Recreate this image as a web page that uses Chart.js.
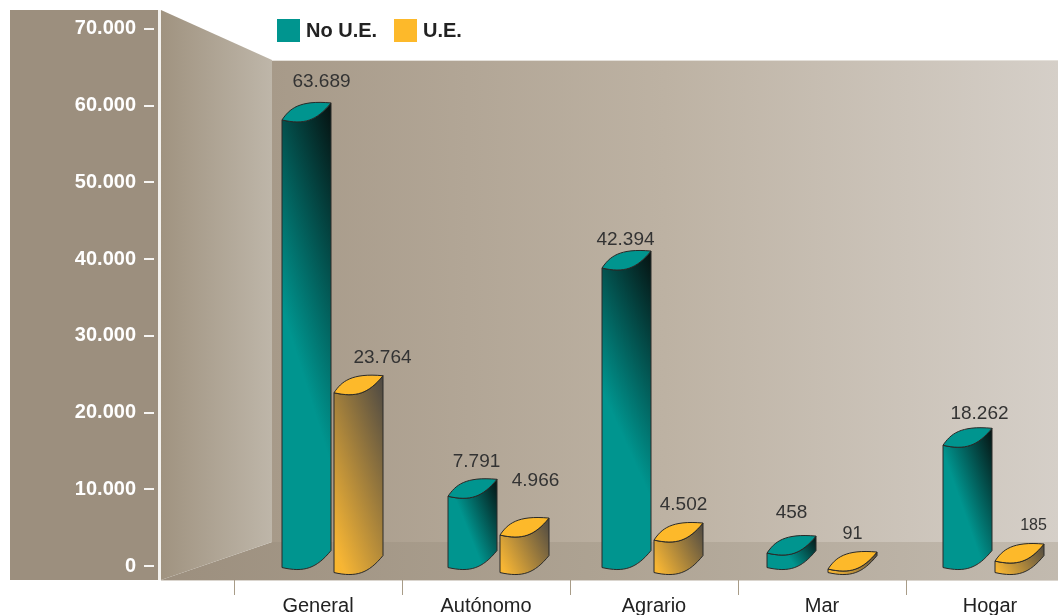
<!DOCTYPE html>
<html lang="es">
<head>
<meta charset="utf-8">
<title>No U.E. / U.E.</title>
<style>
html,body{margin:0;padding:0;background:#fff;overflow:hidden;width:1058px;height:615px}
canvas{display:block}
</style>
<script src="https://cdn.jsdelivr.net/npm/chart.js@4/dist/chart.umd.js"></script>
</head>
<body>
<canvas id="c" width="1074" height="615"></canvas>
<script>
// Categories and tick labels
const categories = ['General', 'Autónomo', 'Agrario', 'Mar', 'Hogar'];
const tickValues = [0, 10000, 20000, 30000, 40000, 50000, 60000, 70000];
const tickLabels = ['0', '10.000', '20.000', '30.000', '40.000', '50.000', '60.000', '70.000'];
const seriesNames = ['No U.E.', 'U.E.'];
// Bar heights as drawn in the picture, read against the axis
const noUEDrawn = [58400, 9350, 39100, 1950, 16000];
const uEDrawn = [23500, 4950, 4300, 520, 1560];
// Values as printed above the bars
const noUELabels = ['63.689', '7.791', '42.394', '458', '18.262'];
const uELabels = ['23.764', '4.966', '4.502', '91', '185'];

const FONT = '"Liberation Sans", Arial, sans-serif';
const looks = [
  { top:'#00958F', stops:[[0,'#00958F'],[0.42,'#00958F'],[1,'#06100F']], drop:2,
    nudge:[15,13,-1,-4,4], labelAt:[[15,-21],[4,-18],[-1,-11],[0,-23],[12,-15]], sizes:[19,19,19,19,19] },
  { top:'#FDB92A', stops:[[0,'#FDB92A'],[0.1,'#F6B534'],[1,'#4A4744']], drop:7,
    nudge:[14,12,-2,4,3], labelAt:[[24,-18],[11,-37],[5,-18],[0,-18],[14,-18]], sizes:[19,19,19,18,16] }
];
const DEPTH = 17;

const scenery = {
  id:'scenery',
  beforeDraw(chart){
    const c = chart.ctx, W = 1058;
    c.save();
    // left panel
    c.fillStyle = '#9C8F7E'; c.fillRect(10,10,148,570);
    // white axis strip
    c.fillStyle = '#F4F2EE'; c.fillRect(158,10,3,570);
    // back wall
    let g = c.createLinearGradient(272,0,W,0);
    g.addColorStop(0,'#A79A89'); g.addColorStop(0.5,'#BDB2A3'); g.addColorStop(1,'#D5CFC8');
    c.fillStyle = g; c.fillRect(272,61,W-272,481);
    c.fillStyle = '#E4E0DA'; c.fillRect(272,60,W-272,1);
    // floor
    g = c.createLinearGradient(161,0,W,0);
    g.addColorStop(0,'#9C8F7E'); g.addColorStop(0.5,'#AEA393'); g.addColorStop(1,'#C2BAAF');
    c.fillStyle = g; c.beginPath(); c.moveTo(161,580); c.lineTo(272,542); c.lineTo(W,542); c.lineTo(W,580); c.closePath(); c.fill();
    c.fillStyle = '#DAD5CE'; c.fillRect(161,580,W-161,1);
    // left wall
    g = c.createLinearGradient(161,0,272,0);
    g.addColorStop(0,'#A09380'); g.addColorStop(1,'#BEB6A9');
    c.fillStyle = g; c.beginPath(); c.moveTo(161,10); c.lineTo(272,60); c.lineTo(272,542); c.lineTo(161,580); c.closePath(); c.fill();
    // axis tick dashes
    const y = chart.scales.y;
    c.fillStyle = '#F7F5F2';
    y.ticks.forEach(t => c.fillRect(144,Math.round(y.getPixelForValue(t.value))-1,10,2));
    // legend
    c.textBaseline = 'middle'; c.textAlign = 'left'; c.font = 'bold 20px ' + FONT;
    c.fillStyle = looks[0].top; c.fillRect(277,19,23,23);
    c.fillStyle = '#222'; c.fillText(seriesNames[0],306,31);
    c.fillStyle = looks[1].top; c.fillRect(394,19,23,23);
    c.fillStyle = '#222'; c.fillText(seriesNames[1],423,31);
    c.restore();
  },
  afterDatasetsDraw(chart){
    const c = chart.ctx;
    const curve = (x0,y,w) => c.bezierCurveTo(x0+.45*w,y+5,x0+.7*w,y+1,x0+w,y-DEPTH);
    const curveBack = (x0,y,w) => c.bezierCurveTo(x0+.7*w,y+1,x0+.45*w,y+5,x0,y);
    chart.data.datasets.forEach((ds,di) => {
      const look = looks[di], labels = di ? uELabels : noUELabels;
      chart.getDatasetMeta(di).data.forEach((el,i) => {
        const w = el.width, x0 = el.x - w/2 + look.nudge[i], x1 = x0 + w;
        const yf = el.y + look.drop, yb = el.base + look.drop, h = yb - yf + DEPTH;
        c.save();
        c.lineWidth = 1; c.strokeStyle = '#2A2A28'; c.lineJoin = 'round';
        // body
        const body = () => { c.beginPath(); c.moveTo(x0,yf); curve(x0,yf,w); c.lineTo(x1,yb-DEPTH); curveBack(x0,yb,w); c.closePath(); };
        c.save(); body(); c.clip();
        c.translate(x0,yf-DEPTH-2); c.scale(w,h+6);
        // shading runs more sideways on short bars, more upwards on tall ones
        const a = 0.7 - 0.45*Math.min(h/300,1), b = 1 - a, n = a*a + b*b;
        const g = c.createLinearGradient(0,1,a/n,1-b/n);
        look.stops.forEach(s => g.addColorStop(s[0],s[1]));
        c.fillStyle = g; c.fillRect(0,0,1,1);
        c.restore();
        body(); c.stroke();
        // top lens
        c.beginPath(); c.moveTo(x0,yf);
        c.bezierCurveTo(x0+.15*w,yf-11,x0+.35*w,yf-20,x1,yf-DEPTH);
        curveBack(x0,yf,w);
        c.closePath(); c.fillStyle = look.top; c.fill(); c.stroke();
        // printed value
        c.fillStyle = '#333'; c.textAlign = 'center'; c.textBaseline = 'middle';
        c.font = look.sizes[i] + 'px ' + FONT;
        c.fillText(labels[i], x0 + w/2 + look.labelAt[i][0], yf - DEPTH + look.labelAt[i][1]);
        c.restore();
      });
    });
  }
};

new Chart(document.getElementById('c'), {
  type:'bar',
  data:{
    labels:categories,
    datasets:[
      { label:seriesNames[0], data:noUEDrawn, backgroundColor:'rgba(0,0,0,0)', borderWidth:0 },
      { label:seriesNames[1], data:uEDrawn, backgroundColor:'rgba(0,0,0,0)', borderWidth:0 }
    ]
  },
  options:{
    responsive:false, animation:false, events:[],
    categoryPercentage:106/168, barPercentage:49/53,
    layout:{ padding:{ top:10, left:0, right:0, bottom:0 } },
    plugins:{ legend:{display:false}, tooltip:{enabled:false} },
    scales:{
      x:{
        grid:{ offset:true, drawOnChartArea:false, drawTicks:true, tickLength:15, tickColor:'#A89C88', tickWidth:1 },
        border:{display:false},
        ticks:{ color:'#222', font:{family:FONT,size:20}, padding:-1, maxRotation:0, autoSkip:false },
        afterFit(s){ s.height = 35; }
      },
      y:{
        min:-1818, max:72208,
        grid:{ drawOnChartArea:false, drawTicks:true, tickLength:98, tickColor:'rgba(0,0,0,0)' },
        border:{display:false},
        afterBuildTicks(s){ s.ticks = tickValues.map(v => ({value:v})); },
        afterFit(s){ s.width = 234; },
        ticks:{
          color:'#FFFFFF', padding:0, autoSkip:false, font:{family:FONT,size:20,weight:'bold'},
          callback(v){ return tickLabels[tickValues.indexOf(v)]; }
        }
      }
    }
  },
  plugins:[scenery]
});
</script>
</body>
</html>
